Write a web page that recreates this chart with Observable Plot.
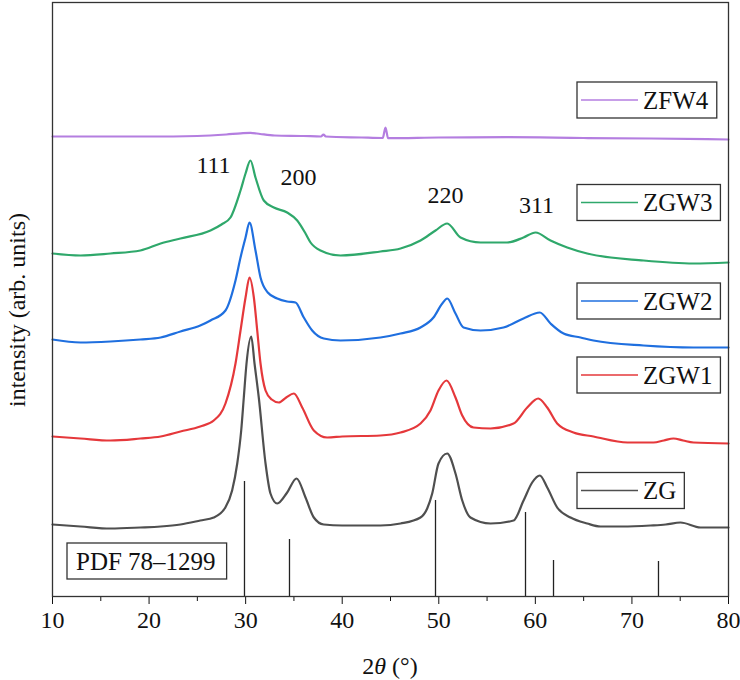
<!DOCTYPE html>
<html><head><meta charset="utf-8">
<script src="https://cdn.jsdelivr.net/npm/d3@7"></script>
<script src="https://cdn.jsdelivr.net/npm/@observablehq/plot@0.6"></script>
<style>body{margin:0;background:#fff;} svg{display:block} svg text{font-family:'Liberation Serif','Times New Roman',Times,serif;}</style>
</head><body><div id="chart"></div><script>
const seriesNames = ["ZG", "ZGW1", "ZGW2", "ZGW3", "ZFW4"];
const seriesColors = ["#4f4f4f", "#e5383b", "#1f6fdf", "#2fa86b", "#b47ee0"];

const zg = [[10,72],[12.9,70],[16,68],[19.1,69],[21.2,70],[23.25,72],[25.3,76],[26.7,79],[27.9,89],[28.6,106],[29.13,133],[29.54,166],[29.81,199],[30.09,233],[30.58,260],[30.92,233],[31.36,199],[32.06,133],[32.57,103],[33.27,93],[34.3,104],[35.27,118],[36.2,99],[37.06,79],[38.09,72],[40,71],[43.96,71],[46.04,73],[48.1,79],[48.8,88],[49.32,103],[49.97,133],[50.87,143],[51.73,123],[52.43,96],[53.28,79],[55.36,73],[57.74,76],[58.78,96],[59.67,114],[60.46,121],[61.23,109],[62.26,89],[63.64,79],[65.37,73],[66.75,70],[69,70],[71.92,71],[73.5,72],[75.03,74],[77.1,69],[80,69]];
const zgw1 = [[10,160],[12.9,158],[16,156],[19.1,158],[21.2,160],[23.25,165],[25.3,170],[26.7,176],[27.91,193],[28.95,233],[29.47,266],[29.99,299],[30.4,319],[30.85,299],[31.2,266],[31.54,233],[32.06,206],[32.7,197],[33.44,194],[34.2,199],[34.99,203],[35.86,189],[37.06,166],[38.44,159],[40,160],[43.96,161],[46.04,164],[48.11,173],[49.14,186],[49.97,206],[50.8,216],[51.73,199],[52.43,181],[53.6,169],[55.36,168],[57.74,173],[59.16,189],[60.3,198],[61.23,189],[62.26,173],[63.95,164],[66.02,160],[69.54,154],[72.23,154],[73.3,156],[74.3,158],[75.3,156],[76.38,154],[80,153]];
const zgw2 = [[10,257],[12.9,254],[16,255],[19.1,257],[21.2,259],[23.25,265],[25.3,271],[26.36,276],[27.91,286],[28.95,316],[29.47,339],[29.99,359],[30.4,374],[31.02,346],[31.54,319],[32.29,304],[33.27,298],[34.3,295],[35.16,294],[36.02,279],[36.89,266],[38.09,258],[39.82,256],[43.96,259],[46.04,263],[48.11,269],[49.45,279],[50.36,293],[50.87,298],[51.73,283],[52.56,269],[54.32,266],[56.7,269],[58.77,278],[60.46,284],[61.57,273],[62.92,263],[64.68,259],[66.02,256],[71.2,251],[76.38,249],[80,249]];
const zgw3 = [[10,343],[12.9,341],[16,343],[19.1,346],[21.2,353],[23.25,358],[26.36,366],[27.5,372],[28.43,379],[29.47,406],[29.99,423],[30.5,436],[31.02,419],[31.88,396],[32.92,389],[34.3,384],[35.34,376],[36.2,363],[36.72,354],[37.75,346],[39.82,341],[43.96,345],[46.04,348],[48.11,356],[49.66,366],[50.87,373],[52.25,359],[54.32,354],[57.08,354],[58.77,359],[60.02,364],[61.57,356],[63.3,349],[65.37,343],[71.2,336],[76.38,333],[80,334]];
const zfw4 = [[10,460],[20,460],[25,460.5],[28,462],[29.5,463.2],[30.5,463.7],[31.5,462.5],[33,461],[36,460.5],[37.8,460],[38.06,462],[38.3,460],[42,459],[44.2,458.5],[44.48,469],[44.75,458.3],[50,459],[57,459.3],[65,458.5],[72,458],[80,457]];
const seriesData = [zg, zgw1, zgw2, zgw3, zfw4];

const pdfPos = [29.88, 34.54, 49.66, 58.98, 61.88, 72.75];
const pdfHeight = [115, 57, 96, 84, 36, 35];
const pdfLabel = "PDF 78\u20131299";

const peakLabels = ["111", "200", "220", "311"];
const peakX = [26.67, 35.47, 50.70, 60.12];
const peakY = [431, 419, 401, 391];

const xTicks = [10, 20, 30, 40, 50, 60, 70, 80];
const xMinor = [15, 25, 35, 45, 55, 65, 75];

const rows = seriesData.flatMap((pts, i) => pts.map(([t, v]) => ({t, v, name: seriesNames[i]})));
const pdfRows = pdfPos.map((t, i) => ({t, h: pdfHeight[i]}));
const peakRows = peakLabels.map((s, i) => ({s, t: peakX[i], v: peakY[i]}));

const fontFam = "'Liberation Serif','Times New Roman',Times,serif";
const plot = Plot.plot({
  width: 740, height: 680,
  marginLeft: 52, marginRight: 12, marginTop: 2, marginBottom: 84,
  style: {fontFamily: fontFam, fontSize: "24px", color: "#111", background: "#fff"},
  x: {domain: [10, 80]},
  y: {domain: [0, 594], axis: null},
  color: {domain: seriesNames, range: seriesColors},
  marks: [
    Plot.ruleX(pdfRows, {x: "t", y1: 0, y2: "h", stroke: "#222", strokeWidth: 1.3}),
    Plot.line(rows, {x: "t", y: "v", z: "name", stroke: "name", strokeWidth: 2.2, curve: "monotone-x"}),
    Plot.text(peakRows, {x: "t", y: "v", text: "s", fontSize: 24, fill: "#111"}),
    Plot.axisX({ticks: xTicks, tickSize: 8, tickPadding: 6, label: null, fontSize: 24, tickFormat: d => String(d)}),
    Plot.axisX({ticks: xMinor, tickSize: 5, tickFormat: () => "", label: null}),
    Plot.frame({stroke: "#333", strokeWidth: 1.3})
  ]
});
document.getElementById("chart").append(plot);

const svg = d3.select(plot);
const g = svg.append("g").attr("font-family", fontFam).attr("fill", "#111").attr("text-anchor", "start");

// y-axis title
g.append("text").attr("transform", "translate(17,310) rotate(-90)")
  .attr("text-anchor", "middle").attr("dominant-baseline", "central")
  .attr("font-size", 24).text("intensity (arb. units)");

// x-axis title
const xt = g.append("text").attr("x", 390).attr("y", 666).attr("text-anchor", "middle")
  .attr("dominant-baseline", "central").attr("font-size", 24);
xt.append("tspan").text("2");
xt.append("tspan").attr("font-style", "italic").text("\u03b8");
xt.append("tspan").text(" (\u00b0)");

// PDF label box
const pt = g.append("text").attr("x", 76).attr("y", 561).attr("text-anchor", "start")
  .attr("dominant-baseline", "central").attr("font-size", 25).text(pdfLabel);
const pb = pt.node().getBBox();
g.insert("rect", "text").attr("x", 67).attr("y", 543).attr("width", pb.x + pb.width + 11 - 67)
  .attr("height", 36).attr("fill", "none").attr("stroke", "#333").attr("stroke-width", 1.3);

// legend boxes
const legendCenters = [490.5, 375, 301, 202.5, 100];
seriesNames.forEach((name, i) => {
  const cy = legendCenters[i];
  const lg = g.append("g");
  const rect = lg.append("rect").attr("x", 577).attr("y", cy - 18).attr("height", 36)
    .attr("fill", "#fff").attr("stroke", "#333").attr("stroke-width", 1.3);
  lg.append("line").attr("x1", 581).attr("x2", 638).attr("y1", cy).attr("y2", cy)
    .attr("stroke", seriesColors[i]).attr("stroke-width", 1.3);
  const t = lg.append("text").attr("x", 643).attr("y", cy).attr("text-anchor", "start")
    .attr("dominant-baseline", "central").attr("font-size", 25).text(name);
  const b = t.node().getBBox();
  rect.attr("width", b.x + b.width + 8 - 577);
});
</script></body></html>
